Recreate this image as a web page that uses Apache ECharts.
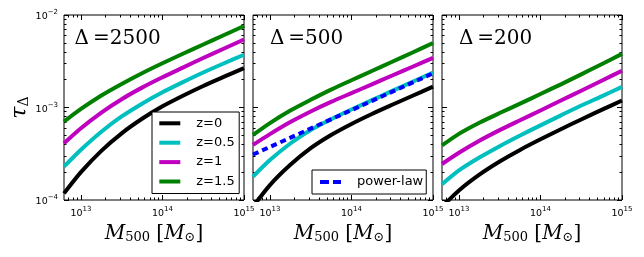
<!DOCTYPE html>
<html><head><meta charset="utf-8">
<script src="https://cdn.jsdelivr.net/npm/echarts@6/dist/echarts.min.js"></script>
<style>html,body{margin:0;padding:0;background:#fff}#c{width:644px;height:257px}</style>
</head><body><div id="c"></div>
<script>
// ---- data ----
const massM500 = [6.2e12, 1e13, 1.78e13, 3.16e13, 5.62e13, 1e14, 1.78e14, 3.16e14, 5.62e14, 1e15];
const redshiftNames = ['z=0', 'z=0.5', 'z=1', 'z=1.5'];
const panelTitles = ['\u0394\u2009=2500', '\u0394\u2009=500', '\u0394\u2009=200'];

const tau2500_z0  = [1.18e-4, 2.00e-4, 3.40e-4, 5.26e-4, 7.55e-4, 1.03e-3, 1.34e-3, 1.71e-3, 2.14e-3, 2.67e-3];
const tau2500_z05 = [2.29e-4, 3.49e-4, 5.47e-4, 8.00e-4, 1.10e-3, 1.46e-3, 1.88e-3, 2.39e-3, 2.99e-3, 3.72e-3];
const tau2500_z1  = [4.10e-4, 5.96e-4, 8.81e-4, 1.23e-3, 1.64e-3, 2.12e-3, 2.70e-3, 3.43e-3, 4.32e-3, 5.43e-3];
const tau2500_z15 = [7.03e-4, 9.64e-4, 1.35e-3, 1.80e-3, 2.35e-3, 3.01e-3, 3.81e-3, 4.80e-3, 6.04e-3, 7.60e-3];

const tau500_z0  = [8.49e-5, 1.45e-4, 2.40e-4, 3.63e-4, 5.04e-4, 6.64e-4, 8.51e-4, 1.07e-3, 1.34e-3, 1.68e-3];
const tau500_z05 = [1.79e-4, 2.70e-4, 4.08e-4, 5.70e-4, 7.46e-4, 9.51e-4, 1.20e-3, 1.51e-3, 1.90e-3, 2.38e-3];
const tau500_z1  = [3.94e-4, 5.15e-4, 6.95e-4, 9.06e-4, 1.15e-3, 1.43e-3, 1.78e-3, 2.22e-3, 2.76e-3, 3.44e-3];
const tau500_z15 = [5.05e-4, 6.79e-4, 9.27e-4, 1.21e-3, 1.56e-3, 1.97e-3, 2.48e-3, 3.12e-3, 3.93e-3, 4.98e-3];

const tau200_z0  = [8.45e-5, 1.27e-4, 1.88e-4, 2.61e-4, 3.48e-4, 4.53e-4, 5.83e-4, 7.43e-4, 9.42e-4, 1.19e-3];
const tau200_z05 = [1.48e-4, 2.09e-4, 2.88e-4, 3.82e-4, 4.98e-4, 6.41e-4, 8.22e-4, 1.05e-3, 1.32e-3, 1.67e-3];
const tau200_z1  = [2.45e-4, 3.24e-4, 4.37e-4, 5.69e-4, 7.28e-4, 9.29e-4, 1.19e-3, 1.52e-3, 1.95e-3, 2.50e-3];
const tau200_z15 = [3.89e-4, 5.19e-4, 6.84e-4, 8.71e-4, 1.10e-3, 1.40e-3, 1.78e-3, 2.28e-3, 2.94e-3, 3.80e-3];

const powerLawName = 'power-law';
const powerLawM = [6.2e12, 1e15];
const powerLawTau500 = [3.1e-4, 2.34e-3];

const xRange = [6.2e12, 1.000001e15];
const yRange = [0.9999999e-4, 1.000001e-2];
const xMajorTicks = [1e13, 1e14, 1e15];
const xMinorTicks = [7e12, 8e12, 9e12, 2e13, 3e13, 4e13, 5e13, 6e13, 7e13, 8e13, 9e13,
                     2e14, 3e14, 4e14, 5e14, 6e14, 7e14, 8e14, 9e14];
const yMajorTicks = [1e-4, 1e-3, 1e-2];
const yMinorTicks = [2e-4, 3e-4, 4e-4, 5e-4, 6e-4, 7e-4, 8e-4, 9e-4,
                     2e-3, 3e-3, 4e-3, 5e-3, 6e-3, 7e-3, 8e-3, 9e-3];

const panelSeries = [
  [tau2500_z0, tau2500_z05, tau2500_z1, tau2500_z15],
  [tau500_z0, tau500_z05, tau500_z1, tau500_z15],
  [tau200_z0, tau200_z05, tau200_z1, tau200_z15]
];

// ---- styling ----
const SANS = 'DejaVu Sans';
const SERIF = 'DejaVu Serif';
const lineColors = ['#000000', '#00bfbf', '#bf00bf', '#008000'];
const gridLefts = [64, 253, 442];
const gridTop = 15, gridW = 180, gridH = 185;

const expRich = {
  b: { fontFamily: SANS, fontSize: 9.5, color: '#000', padding: [4, 0, 0, 0] },
  s: { fontFamily: SANS, fontSize: 7, color: '#000', padding: [0, 0, 5, 0] }
};
function expFmt(v) {
  const e = Math.round(Math.log10(v));
  return '{b|10}{s|' + (e < 0 ? '\u2212' + (-e) : e) + '}';
}

const grids = [], xAxes = [], yAxes = [], series = [], titles = [];
for (let p = 0; p < 3; p++) {
  grids.push({ left: gridLefts[p], top: gridTop, width: gridW, height: gridH,
    show: true, borderColor: '#000', borderWidth: 1, backgroundColor: 'transparent',
    containLabel: false, outerBoundsMode: 'none' });
  const xBase = { type: 'log', logBase: 10, gridIndex: p, min: xRange[0], max: xRange[1],
    axisLine: { show: false }, splitLine: { show: false }, minorTick: { show: false } };
  const yBase = { type: 'log', logBase: 10, gridIndex: p, min: yRange[0], max: yRange[1],
    axisLine: { show: false }, splitLine: { show: false }, minorTick: { show: false } };
  const tick = (vals, len) => ({ show: true, inside: true, length: len, customValues: vals,
    lineStyle: { color: '#000', width: 1 } });
  xAxes.push(Object.assign({}, xBase, { position: 'bottom', axisTick: tick(xMajorTicks, 5),
    axisLabel: { show: true, customValues: xMajorTicks, formatter: expFmt, rich: expRich, margin: 5, hideOverlap: false },
    name: '{i|M}{s|500}{n| [}{i|M}{s|\u2299}{n|]}', nameLocation: 'middle', nameGap: 21,
    nameTextStyle: { rich: {
      i: { fontFamily: SERIF, fontStyle: 'italic', fontSize: 20, color: '#000' },
      s: { fontFamily: SERIF, fontSize: 13, color: '#000', padding: [8, 0, 0, 0] },
      n: { fontFamily: SERIF, fontSize: 20, color: '#000' } } } }));
  xAxes.push(Object.assign({}, xBase, { position: 'top', axisTick: tick(xMajorTicks, 5), axisLabel: { show: false } }));
  xAxes.push(Object.assign({}, xBase, { position: 'bottom', axisTick: tick(xMinorTicks, 2.5), axisLabel: { show: false } }));
  xAxes.push(Object.assign({}, xBase, { position: 'top', axisTick: tick(xMinorTicks, 2.5), axisLabel: { show: false } }));
  const yMain = Object.assign({}, yBase, { position: 'left', axisTick: tick(yMajorTicks, 5),
    axisLabel: { show: p === 0, customValues: yMajorTicks, formatter: expFmt, rich: expRich, margin: 6, hideOverlap: false } });
  if (p === 0) {
    Object.assign(yMain, { name: '{t|\u03c4}{d|\u0394}', nameLocation: 'middle', nameRotate: 90, nameGap: 32,
      nameTextStyle: { rich: {
        t: { fontFamily: SERIF, fontStyle: 'italic', fontSize: 22, color: '#000' },
        d: { fontFamily: SERIF, fontSize: 14, color: '#000', padding: [8, 0, 0, 0] } } } });
  }
  yAxes.push(yMain);
  yAxes.push(Object.assign({}, yBase, { position: 'right', axisTick: tick(yMajorTicks, 5), axisLabel: { show: false } }));
  yAxes.push(Object.assign({}, yBase, { position: 'left', axisTick: tick(yMinorTicks, 2.5), axisLabel: { show: false } }));
  yAxes.push(Object.assign({}, yBase, { position: 'right', axisTick: tick(yMinorTicks, 2.5), axisLabel: { show: false } }));

  panelSeries[p].forEach((arr, k) => {
    series.push({ type: 'line', name: redshiftNames[k], xAxisIndex: p * 4, yAxisIndex: p * 4,
      data: massM500.map((m, i) => [m, arr[i]]), symbol: 'none', showSymbol: false, smooth: 0.25,
      clip: true, lineStyle: { color: lineColors[k], width: 4, cap: 'butt', join: 'round' },
      itemStyle: { color: lineColors[k] }, z: 2 });
  });
  titles.push({ text: panelTitles[p], left: gridLefts[p] + 53.6, top: 28.5, textAlign: 'center', padding: 0,
    textStyle: { fontFamily: SERIF, fontSize: 20, fontWeight: 'normal', color: '#000' } });
}
series.push({ type: 'line', name: powerLawName, xAxisIndex: 4, yAxisIndex: 4,
  data: powerLawM.map((m, i) => [m, powerLawTau500[i]]), symbol: 'none', showSymbol: false, clip: true,
  lineStyle: { color: '#0000ff', width: 4, type: [6, 4], cap: 'butt' }, itemStyle: { color: '#0000ff' }, z: 3 });

const chart = echarts.init(document.getElementById('c'), null, { renderer: 'canvas' });
chart.setOption({
  animation: false,
  backgroundColor: '#fff',
  textStyle: { fontFamily: SANS },
  title: titles,
  grid: grids, xAxis: xAxes, yAxis: yAxes, series: series,
  legend: [
    { data: redshiftNames.map(n => ({ name: n, icon: 'rect' })), orient: 'vertical', left: 152, top: 112, align: 'left',
      padding: [4.8, 4.5, 5.5, 7.3], itemGap: 6.4, itemWidth: 21, itemHeight: 4,
      borderColor: '#000', borderWidth: 1, borderRadius: 0, backgroundColor: '#fff', selectedMode: false,
      textStyle: { fontFamily: SANS, fontSize: 13, color: '#000', padding: [0, 0, 0, 11] } },
    { data: [{ name: powerLawName, icon: 'path://M0,0H9V4H0Z M13,0H21V4H13Z' }], orient: 'vertical', left: 312, top: 170, align: 'left',
      padding: [5.5, 3, 5.5, 8], itemWidth: 21, itemHeight: 4,
      borderColor: '#000', borderWidth: 1, borderRadius: 0, backgroundColor: '#fff', selectedMode: false,
      textStyle: { fontFamily: SANS, fontSize: 13, color: '#000', padding: [0, 0, 0, 11] } }
  ]
});
</script></body></html>
